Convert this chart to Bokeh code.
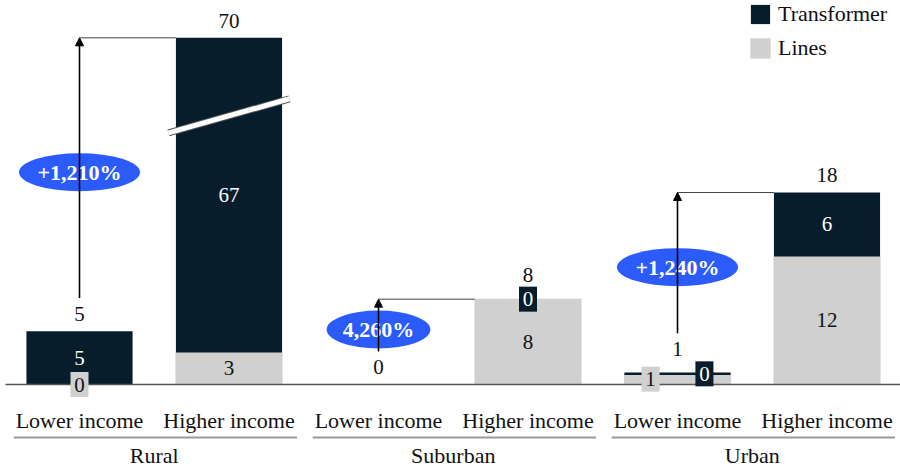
from bokeh.plotting import figure
from bokeh.models import Range1d, Arrow, NormalHead, Legend, LegendItem
from bokeh.core.properties import value
from bokeh.embed import file_html
from bokeh.resources import INLINE

# ---- data -------------------------------------------------------------
groups = ["Rural", "Suburban", "Urban"]
incomes = ["Lower income", "Higher income"]
lines_vals = [0, 3, 0, 8, 1, 12]
transformer_vals = [5, 67, 0, 0, 0, 6]
totals = [5, 70, 0, 8, 1, 18]
changes = ["+1,210%", "4,260%", "+1,240%"]

# ---- style ------------------------------------------------------------
NAVY = "#081d2c"
GRAY = "#d0d0d0"
BLUE = "#2b5cfb"
INK = "#111111"
FONT = "Liberation Serif"

W, H = 900, 468
PX_PER_UNIT = 10.667     # vertical scale
BASE_PX = 384            # baseline position from the top
SLOT_PX = 149.5          # width of one bar slot
LEFT_PX = 4.25
BAR_W = 0.71
BREAK_AT = 32.5          # taller bars are cut off here and drawn with a break mark

p = figure(width=W, height=H,
           x_range=Range1d(-LEFT_PX / SLOT_PX, (W - LEFT_PX) / SLOT_PX),
           y_range=Range1d(-(H - BASE_PX) / PX_PER_UNIT, BASE_PX / PX_PER_UNIT),
           x_axis_type=None, y_axis_type=None,
           output_backend="svg", toolbar_location=None,
           min_border=0, outline_line_color=None)
p.grid.visible = False

n = len(totals)
xs = [i + 0.5 for i in range(n)]
shown_top = [min(t, BREAK_AT) for t in totals]

# ---- stacked bars -----------------------------------------------------
lines_r = p.vbar(x=xs, bottom=0, top=lines_vals, width=BAR_W,
                 fill_color=GRAY, line_color=GRAY, line_width=1)
trans_r = p.vbar(x=xs, bottom=lines_vals, top=shown_top, width=BAR_W,
                 fill_color=NAVY, line_color=None)

# empty transformer segment sitting on a short lines segment
zx0, zx1, zy = [], [], []
for i in range(n):
    if transformer_vals[i] == 0 and 0 < lines_vals[i] < 2:
        zx0.append(xs[i] - BAR_W / 2)
        zx1.append(xs[i] + BAR_W / 2)
        zy.append(lines_vals[i])
p.segment(x0=zx0, y0=zy, x1=zx1, y1=zy, line_color=NAVY, line_width=2.5)

# break marks on bars that run past the cut-off
bx0, by0, bx1, by1 = [], [], [], []
for i in range(n):
    if totals[i] > BREAK_AT:
        yc = BREAK_AT * 0.775
        half_w = 0.405
        half_h = 1.6
        bx0.append(xs[i] - half_w); by0.append(yc - half_h)
        bx1.append(xs[i] + half_w); by1.append(yc + half_h)
p.segment(x0=bx0, y0=by0, x1=bx1, y1=by1, line_color="#555555", line_width=7)
p.segment(x0=bx0, y0=by0, x1=bx1, y1=by1, line_color="white", line_width=5)

# baseline
p.segment(x0=[5 / SLOT_PX - LEFT_PX / SLOT_PX], y0=[0], x1=[(W - LEFT_PX) / SLOT_PX], y1=[0],
          line_color="#555555", line_width=1.3)

# ---- segment labels ---------------------------------------------------
plain = dict(x=[], y=[], text=[], color=[])
boxed = dict(x=[], y=[], text=[], color=[], fill=[])
total_y = []
for i in range(n):
    lv, tv = lines_vals[i], transformer_vals[i]
    top_boxed = tv < 2 and lv > 0
    total_y.append(shown_top[i] + (2.3 if top_boxed else 1.6))
    if totals[i] == 0:
        continue
    l_small = lv < 2
    t_small = tv < 2
    shift = 0.18 if (l_small and t_small) else 0.0
    ly = lv / 2
    ty = (lv + shown_top[i]) / 2
    if l_small:
        boxed["x"].append(xs[i] - shift); boxed["y"].append(ly)
        boxed["text"].append(str(lv)); boxed["color"].append(INK); boxed["fill"].append(GRAY)
    else:
        plain["x"].append(xs[i]); plain["y"].append(ly)
        plain["text"].append(str(lv)); plain["color"].append(INK)
    if t_small:
        boxed["x"].append(xs[i] + shift); boxed["y"].append(ty)
        boxed["text"].append(str(tv)); boxed["color"].append("white"); boxed["fill"].append(NAVY)
    else:
        plain["x"].append(xs[i]); plain["y"].append(ty)
        plain["text"].append(str(tv)); plain["color"].append("white")

p.text(x=plain["x"], y=plain["y"], text=plain["text"], text_color=plain["color"],
       text_font=value(FONT), text_font_size="21px",
       text_align="center", text_baseline="middle")
p.rect(x=boxed["x"], y=boxed["y"], width=18, height=25,
       width_units="screen", height_units="screen",
       fill_color=boxed["fill"], line_color=None)
p.text(x=boxed["x"], y=boxed["y"], text=boxed["text"], text_color=boxed["color"],
       text_font=value(FONT), text_font_size="21px",
       text_align="center", text_baseline="middle")

# totals above the bars
p.text(x=xs, y=total_y, text=[str(t) for t in totals], text_color=INK,
       text_font=value(FONT), text_font_size="21px",
       text_align="center", text_baseline="middle")

# ---- change arrows ----------------------------------------------------
for g in range(len(groups)):
    lo, hi = 2 * g, 2 * g + 1
    x0 = xs[lo]
    y_start = total_y[lo] + 1.5
    y_end = shown_top[hi]
    p.add_layout(Arrow(end=NormalHead(size=8, fill_color="black", line_color="black"),
                       x_start=x0, y_start=y_start, x_end=x0, y_end=y_end,
                       line_color="black", line_width=1.6))
    p.segment(x0=[x0], y0=[y_end], x1=[xs[hi] - BAR_W / 2], y1=[y_end],
              line_color="#444444", line_width=1)
    ym = (y_start + y_end) / 2 - 0.4
    ew = 17.3 * len(changes[g]) / SLOT_PX
    p.ellipse(x=[x0], y=[ym], width=[ew], height=[38 / PX_PER_UNIT],
              fill_color=BLUE, line_color=None)
    p.text(x=[x0], y=[ym], text=[changes[g]], text_color="white",
           text_font=value(FONT), text_font_size="22px", text_font_style="bold",
           text_align="center", text_baseline="middle")

# ---- category axis ----------------------------------------------------
cat_labels = [inc for _ in groups for inc in incomes]
p.text(x=xs, y=[-3.375] * n, text=cat_labels, text_color=INK,
       text_font=value(FONT), text_font_size="22px",
       text_align="center", text_baseline="middle")
gx = [2 * g + 1 for g in range(len(groups))]
p.segment(x0=[c - 0.94 for c in gx], y0=[-4.97] * 3, x1=[c + 0.955 for c in gx], y1=[-4.97] * 3,
          line_color="#9a9a9a", line_width=2)
p.text(x=gx, y=[-6.66] * 3, text=groups, text_color=INK,
       text_font=value(FONT), text_font_size="22px",
       text_align="center", text_baseline="middle")

# ---- legend -----------------------------------------------------------
legend = Legend(items=[LegendItem(label="Transformer", renderers=[trans_r]),
                       LegendItem(label="Lines", renderers=[lines_r])],
                location=(748, H - 5 - 56), orientation="vertical",
                padding=0, margin=0, spacing=8,
                glyph_width=24, glyph_height=24, label_height=24,
                label_standoff=6,
                label_text_font=FONT, label_text_font_size="22px", label_text_color=INK,
                background_fill_alpha=0, border_line_color=None)
p.add_layout(legend)

open("out.html", "w").write(file_html(p, INLINE))
